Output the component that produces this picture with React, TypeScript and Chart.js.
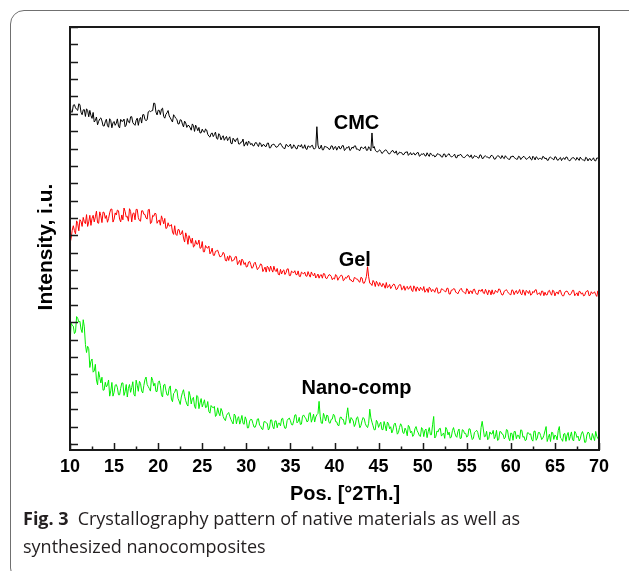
import React, { useEffect, useRef } from "react";
import { Chart, registerables } from "chart.js";

Chart.register(...registerables);

// 2θ grid: first angle and step (degrees). Main readings sit on the grid,
// the "half" readings sit midway between grid points.
const THETA_START = 10;
const THETA_STEP = 0.25;

const xTickValues = [10, 15, 20, 25, 30, 35, 40, 45, 50, 55, 60, 65, 70];
const yTickValues = [0, 100, 200, 300, 400, 500, 600, 700, 800, 900, 1000, 1100, 1200, 1300, 1400, 1500, 1600, 1700, 1800, 1900, 2000, 2100, 2200, 2300, 2400];

const seriesNames = ["CMC", "Gel", "Nano-comp"];

// Intensity (arbitrary units, offset traces), 10°..70° every 0.25°
const cmc = [
  1943, 1909, 1953, 1926, 1958, 1909, 1923, 1885, 1919, 1920, 1874, 1853,
  1882, 1857, 1877, 1831, 1854, 1832, 1872, 1820, 1856, 1846, 1830, 1868,
  1858, 1826, 1873, 1848, 1884, 1841, 1863, 1834, 1879, 1895, 1867, 1866,
  1917, 1917, 1962, 1910, 1921, 1896, 1933, 1875, 1906, 1888, 1865, 1895,
  1874, 1842, 1866, 1841, 1858, 1822, 1832, 1806, 1832, 1835, 1803, 1790,
  1812, 1794, 1807, 1772, 1786, 1769, 1795, 1754, 1776, 1764, 1748, 1770,
  1758, 1731, 1760, 1739, 1760, 1726, 1738, 1714, 1739, 1743, 1722, 1716,
  1733, 1723, 1734, 1711, 1723, 1712, 1732, 1705, 1723, 1717, 1709, 1727,
  1718, 1701, 1724, 1711, 1726, 1704, 1713, 1698, 1717, 1723, 1704, 1699,
  1716, 1707, 1719, 1698, 1826, 1699, 1720, 1693, 1711, 1705, 1697, 1715,
  1708, 1691, 1714, 1701, 1717, 1695, 1704, 1689, 1709, 1715, 1696, 1691,
  1709, 1700, 1712, 1691, 1701, 1790, 1712, 1683, 1688, 1684, 1677, 1692,
  1682, 1669, 1687, 1677, 1687, 1669, 1677, 1665, 1678, 1682, 1668, 1663,
  1675, 1667, 1677, 1660, 1667, 1659, 1676, 1655, 1667, 1663, 1656, 1671,
  1664, 1651, 1669, 1659, 1670, 1652, 1660, 1648, 1663, 1667, 1653, 1648,
  1662, 1654, 1664, 1647, 1655, 1647, 1664, 1643, 1656, 1652, 1645, 1660,
  1653, 1640, 1658, 1648, 1660, 1642, 1650, 1638, 1654, 1658, 1644, 1639,
  1653, 1645, 1655, 1638, 1647, 1640, 1656, 1635, 1648, 1644, 1637, 1652,
  1646, 1633, 1651, 1641, 1653, 1635, 1643, 1631, 1647, 1651, 1637, 1632,
  1647, 1639, 1649, 1632, 1641, 1634, 1650, 1629, 1642, 1638, 1631, 1646,
  1640,
];
// 10.125°..69.875° every 0.25°
const cmcHalf = [
  1912, 1950, 1935, 1920, 1953, 1895, 1924, 1929, 1883, 1890, 1908, 1862,
  1837, 1871, 1859, 1830, 1869, 1823, 1861, 1848, 1834, 1871, 1819, 1857,
  1870, 1835, 1853, 1883, 1849, 1834, 1875, 1869, 1847, 1896, 1861, 1911,
  1913, 1919, 1960, 1894, 1920, 1927, 1885, 1897, 1919, 1877, 1853, 1885,
  1868, 1842, 1864, 1825, 1848, 1834, 1820, 1842, 1799, 1820, 1822, 1791,
  1798, 1813, 1782, 1766, 1790, 1781, 1759, 1786, 1750, 1774, 1760, 1746,
  1768, 1727, 1750, 1755, 1727, 1737, 1755, 1727, 1718, 1736, 1730, 1716,
  1735, 1712, 1730, 1722, 1713, 1731, 1704, 1721, 1726, 1708, 1716, 1730,
  1709, 1700, 1720, 1716, 1701, 1722, 1700, 1719, 1710, 1703, 1722, 1695,
  1711, 1717, 1699, 1707, 1720, 1702, 1693, 1713, 1708, 1695, 1716, 1694,
  1712, 1705, 1698, 1717, 1689, 1707, 1713, 1695, 1702, 1716, 1698, 1689,
  1707, 1703, 1690, 1711, 1687, 1703, 1691, 1680, 1693, 1672, 1686, 1691,
  1671, 1678, 1689, 1675, 1664, 1680, 1676, 1666, 1679, 1661, 1677, 1671,
  1663, 1677, 1656, 1670, 1672, 1657, 1664, 1675, 1659, 1652, 1668, 1664,
  1652, 1669, 1651, 1667, 1659, 1654, 1668, 1647, 1659, 1664, 1649, 1656,
  1665, 1651, 1644, 1660, 1655, 1645, 1662, 1644, 1658, 1652, 1647, 1661,
  1639, 1653, 1658, 1643, 1648, 1659, 1645, 1638, 1653, 1649, 1639, 1656,
  1637, 1653, 1647, 1642, 1655, 1634, 1648, 1653, 1637, 1644, 1655, 1641,
  1633, 1649, 1645, 1635, 1651, 1633, 1649, 1643, 1637, 1651, 1630, 1644,
  1648, 1633, 1640, 1651, 1636, 1629, 1645, 1641, 1630, 1647, 1629, 1645,
];

const gel = [
  1155, 1230, 1228, 1284, 1227, 1281, 1304, 1268, 1252, 1316, 1299, 1278,
  1340, 1270, 1313, 1335, 1298, 1276, 1330, 1352, 1294, 1318, 1342, 1278,
  1290, 1338, 1310, 1354, 1278, 1330, 1350, 1302, 1282, 1342, 1321, 1294,
  1350, 1274, 1310, 1325, 1283, 1259, 1292, 1298, 1244, 1254, 1263, 1206,
  1207, 1234, 1204, 1228, 1162, 1192, 1199, 1155, 1133, 1171, 1150, 1126,
  1165, 1106, 1130, 1139, 1105, 1086, 1109, 1115, 1077, 1085, 1093, 1053,
  1056, 1077, 1058, 1078, 1032, 1057, 1064, 1033, 1018, 1047, 1033, 1016,
  1046, 1003, 1022, 1030, 1005, 989, 1016, 1024, 989, 1000, 1010, 973,
  978, 1002, 985, 1008, 969, 989, 997, 974, 965, 989, 979, 967,
  992, 960, 975, 983, 965, 954, 974, 981, 955, 964, 973, 945,
  949, 969, 955, 972, 939, 959, 967, 944, 935, 958, 948, 935,
  959, 926, 940, 1020, 925, 912, 931, 936, 908, 916, 924, 896,
  899, 918, 905, 921, 888, 908, 916, 893, 884, 907, 898, 885,
  910, 878, 894, 902, 884, 873, 894, 902, 876, 885, 895, 867,
  871, 891, 879, 896, 863, 885, 894, 873, 864, 889, 881, 870,
  894, 863, 880, 889, 871, 861, 883, 891, 865, 875, 885, 858,
  863, 884, 872, 890, 857, 879, 888, 867, 858, 883, 875, 864,
  889, 858, 875, 884, 866, 856, 878, 886, 860, 870, 880, 853,
  858, 879, 867, 885, 852, 874, 883, 862, 853, 878, 870, 859,
  884, 853, 870, 879, 862, 852, 874, 882, 856, 866, 876, 849,
  853,
];
const gelHalf = [
  1182, 1256, 1209, 1268, 1291, 1252, 1279, 1320, 1278, 1258, 1316, 1307,
  1273, 1336, 1274, 1332, 1315, 1297, 1351, 1277, 1330, 1346, 1294, 1318,
  1358, 1306, 1282, 1338, 1326, 1290, 1350, 1286, 1342, 1322, 1300, 1348,
  1268, 1316, 1328, 1270, 1289, 1313, 1267, 1240, 1273, 1256, 1220, 1256,
  1200, 1233, 1209, 1185, 1215, 1149, 1180, 1185, 1139, 1150, 1174, 1129,
  1106, 1142, 1127, 1094, 1127, 1085, 1111, 1095, 1079, 1103, 1056, 1080,
  1084, 1051, 1060, 1078, 1045, 1028, 1055, 1044, 1021, 1051, 1011, 1039,
  1025, 1011, 1037, 992, 1018, 1023, 993, 1003, 1023, 992, 976, 1005,
  996, 975, 1007, 969, 995, 986, 975, 996, 963, 983, 989, 965,
  974, 990, 967, 955, 978, 971, 954, 979, 951, 974, 965, 955,
  975, 942, 963, 968, 945, 954, 969, 945, 934, 956, 948, 931,
  955, 925, 965, 962, 922, 941, 906, 925, 929, 905, 914, 929,
  905, 894, 916, 908, 892, 917, 887, 910, 900, 890, 910, 877,
  898, 904, 881, 890, 906, 883, 872, 896, 889, 873, 899, 870,
  893, 884, 875, 896, 863, 885, 892, 870, 879, 896, 874, 864,
  886, 880, 865, 891, 862, 886, 878, 869, 890, 858, 880, 887,
  865, 875, 892, 870, 859, 883, 877, 862, 887, 859, 883, 875,
  865, 887, 855, 877, 883, 861, 871, 888, 865, 855, 879, 873,
  858, 884, 856, 880, 871, 862, 884, 852, 873, 880, 858, 868,
  884, 862, 852, 876, 870, 855, 881, 853, 876, 868, 859, 881,
];

const nanoComp = [
  560, 683, 635, 733, 701, 661, 715, 572, 562, 440, 489, 420,
  368, 416, 351, 309, 355, 340, 275, 354, 297, 342, 283, 320,
  351, 301, 270, 342, 325, 286, 367, 303, 348, 293, 370, 342,
  318, 385, 333, 302, 353, 337, 270, 344, 282, 322, 258, 290,
  316, 262, 227, 295, 274, 229, 302, 230, 268, 204, 273, 236,
  213, 254, 212, 186, 221, 208, 158, 208, 162, 189, 143, 163,
  181, 141, 115, 163, 146, 114, 164, 113, 138, 93, 142, 117,
  96, 143, 107, 86, 128, 122, 80, 138, 99, 132, 93, 119,
  144, 110, 91, 144, 134, 109, 166, 121, 153, 114, 167, 148,
  131, 180, 145, 126, 168, 245, 120, 176, 132, 162, 119, 143,
  164, 127, 105, 155, 141, 113, 208, 119, 143, 100, 150, 126,
  106, 152, 116, 94, 200, 125, 81, 136, 95, 125, 82, 105,
  126, 87, 63, 111, 96, 65, 116, 65, 91, 47, 97, 73,
  53, 100, 64, 43, 84, 78, 36, 94, 53, 158, 44, 69,
  90, 54, 32, 83, 68, 40, 94, 46, 73, 31, 82, 60,
  39, 87, 52, 32, 72, 66, 24, 130, 41, 73, 32, 57,
  78, 42, 20, 71, 57, 29, 83, 35, 63, 21, 72, 50,
  30, 78, 43, 23, 64, 58, 16, 74, 34, 66, 25, 50,
  100, 36, 14, 65, 51, 23, 100, 29, 57, 15, 66, 44,
  24, 72, 37, 17, 58, 52, 10, 68, 28, 60, 19, 44,
  30,
];
const nanoCompHalf = [
  695, 678, 645, 723, 706, 641, 674, 526, 548, 476, 413, 458,
  340, 382, 384, 311, 328, 368, 305, 275, 338, 324, 283, 351,
  279, 342, 320, 297, 358, 275, 338, 360, 305, 336, 385, 330,
  304, 366, 349, 302, 363, 283, 339, 309, 280, 334, 243, 297,
  310, 247, 270, 312, 249, 218, 278, 261, 216, 279, 203, 261,
  232, 209, 244, 177, 212, 216, 167, 178, 204, 158, 134, 174,
  159, 127, 172, 116, 157, 137, 118, 156, 92, 131, 140, 97,
  114, 145, 102, 83, 128, 118, 90, 138, 87, 133, 119, 104,
  148, 90, 134, 149, 111, 133, 168, 129, 112, 160, 153, 127,
  176, 125, 171, 155, 175, 160, 118, 157, 166, 123, 141, 171,
  128, 108, 152, 141, 113, 165, 150, 152, 132, 115, 156, 93,
  134, 144, 102, 119, 150, 104, 82, 125, 113, 83, 129, 75,
  117, 99, 80, 120, 56, 95, 104, 60, 77, 107, 64, 43,
  87, 76, 47, 94, 42, 86, 70, 53, 110, 34, 75, 87,
  45, 63, 95, 52, 33, 77, 67, 38, 86, 33, 78, 61,
  45, 86, 25, 66, 78, 36, 95, 86, 44, 24, 69, 58,
  30, 78, 25, 70, 54, 37, 79, 18, 60, 71, 30, 49,
  81, 38, 19, 64, 54, 25, 73, 21, 66, 49, 33, 75,
  14, 56, 67, 26, 45, 77, 35, 15, 60, 50, 21, 69,
  17, 61, 45, 29, 71, 9, 51, 63, 22, 40, 72, 30,
];

const FONT = '"Liberation Sans", Arial, Helvetica, sans-serif';

const toPoints = (full: number[], half: number[]) => {
  const pts: { x: number; y: number }[] = [];
  full.forEach((v, k) => {
    pts.push({ x: THETA_START + k * THETA_STEP, y: v });
    if (k < half.length) pts.push({ x: THETA_START + (k + 0.5) * THETA_STEP, y: half[k] });
  });
  return pts;
};

const framePlugin = {
  id: "xrdFrame",
  afterDatasetsDraw(chart: any) {
    const { ctx, chartArea: a, scales } = chart;
    const x = scales.x;
    const y = scales.y;
    ctx.save();
    // tick marks (inward)
    ctx.strokeStyle = "#1a1a1a";
    ctx.lineWidth = 1.5;
    ctx.beginPath();
    for (const v of yTickValues) {
      const py = Math.round(y.getPixelForValue(v)) + 0.5;
      ctx.moveTo(a.left, py);
      ctx.lineTo(a.left + 8, py);
    }
    for (let i = 0; i < xTickValues.length; i++) {
      const t = xTickValues[i];
      const px = Math.round(x.getPixelForValue(t)) + 0.5;
      ctx.moveTo(px, a.bottom);
      ctx.lineTo(px, a.bottom - 7);
      if (i < xTickValues.length - 1) {
        const m = (t + xTickValues[i + 1]) / 2;
        const pm = Math.round(x.getPixelForValue(m)) + 0.5;
        ctx.moveTo(pm, a.bottom);
        ctx.lineTo(pm, a.bottom - 3.5);
      }
    }
    ctx.stroke();
    // frame
    ctx.lineWidth = 2;
    ctx.strokeRect(a.left, a.top, a.right - a.left, a.bottom - a.top);

    // series labels
    ctx.fillStyle = "#000";
    ctx.font = `bold 20px ${FONT}`;
    ctx.textAlign = "center";
    ctx.textBaseline = "alphabetic";
    const anchors: [number, number][] = [
      [42.5, 1814],
      [42.3, 1025],
      [42.5, 288],
    ];
    seriesNames.forEach((n, i) => {
      ctx.fillText(n, x.getPixelForValue(anchors[i][0]), y.getPixelForValue(anchors[i][1]));
    });

    // axis titles
    ctx.font = `bold 21px ${FONT}`;
    ctx.save();
    ctx.translate(52, 247);
    ctx.rotate(-Math.PI / 2);
    ctx.fillText("Intensity, i.u.", 0, 0);
    ctx.restore();
    ctx.font = `bold 20px ${FONT}`;
    ctx.fillText("Pos. [°2Th.]", 345, 500);
    ctx.restore();
  },
};

export default function App() {
  const ref = useRef<HTMLCanvasElement | null>(null);
  useEffect(() => {
    if (!ref.current) return;
    const chart = new Chart(ref.current, {
      type: "line",
      data: {
        datasets: [
          { label: seriesNames[0], data: toPoints(cmc, cmcHalf), borderColor: "#000000", borderWidth: 1, pointRadius: 0, tension: 0 },
          { label: seriesNames[1], data: toPoints(gel, gelHalf), borderColor: "#ff0000", borderWidth: 1, pointRadius: 0, tension: 0 },
          { label: seriesNames[2], data: toPoints(nanoComp, nanoCompHalf), borderColor: "#00ee00", borderWidth: 1, pointRadius: 0, tension: 0 },
        ],
      },
      options: {
        animation: false,
        responsive: false,
        maintainAspectRatio: false,
        devicePixelRatio: 1,
        layout: { padding: { left: 0, top: 27, right: 30, bottom: 0 } },
        plugins: { legend: { display: false }, tooltip: { enabled: false } },
        scales: {
          x: {
            type: "linear",
            min: 10,
            max: 70,
            afterBuildTicks: (s: any) => {
              s.ticks = xTickValues.map((v) => ({ value: v }));
            },
            afterFit: (s: any) => {
              s.height = 121;
            },
            ticks: {
              color: "#000",
              font: { family: FONT, size: 18, weight: "bold" },
              padding: 6,
              maxRotation: 0,
              autoSkip: false,
            },
            grid: { display: false, drawTicks: false },
            border: { display: false },
          },
          y: {
            type: "linear",
            min: -35,
            max: 2400,
            afterFit: (s: any) => {
              s.width = 70;
            },
            ticks: { display: false },
            grid: { display: false, drawTicks: false },
            border: { display: false },
          },
        },
      },
      plugins: [framePlugin],
    } as any);
    return () => chart.destroy();
  }, []);

  return (
    <div style={{ position: "absolute", left: 0, top: 0, width: 629, height: 571, overflow: "hidden", background: "#fff" }}>
      <div
        style={{
          position: "absolute",
          left: 10,
          top: 10,
          width: 640,
          height: 572,
          border: "1.5px solid #707070",
          borderRadius: 14,
          boxSizing: "border-box",
        }}
      />
      <canvas ref={ref} width={629} height={571} style={{ position: "absolute", left: 0, top: 0, width: 629, height: 571 }} />
      <div
        style={{
          position: "absolute",
          left: 23,
          top: 504,
          fontFamily: '"Open Sans", "Noto Sans", sans-serif',
          fontSize: 18,
          lineHeight: "28px",
          color: "#231f20",
          whiteSpace: "nowrap",
        }}
      >
        <div>
          <b>Fig. 3</b>
          {"\u2002"}Crystallography pattern of native materials as well as
        </div>
        <div>synthesized nanocomposites</div>
      </div>
    </div>
  );
}
